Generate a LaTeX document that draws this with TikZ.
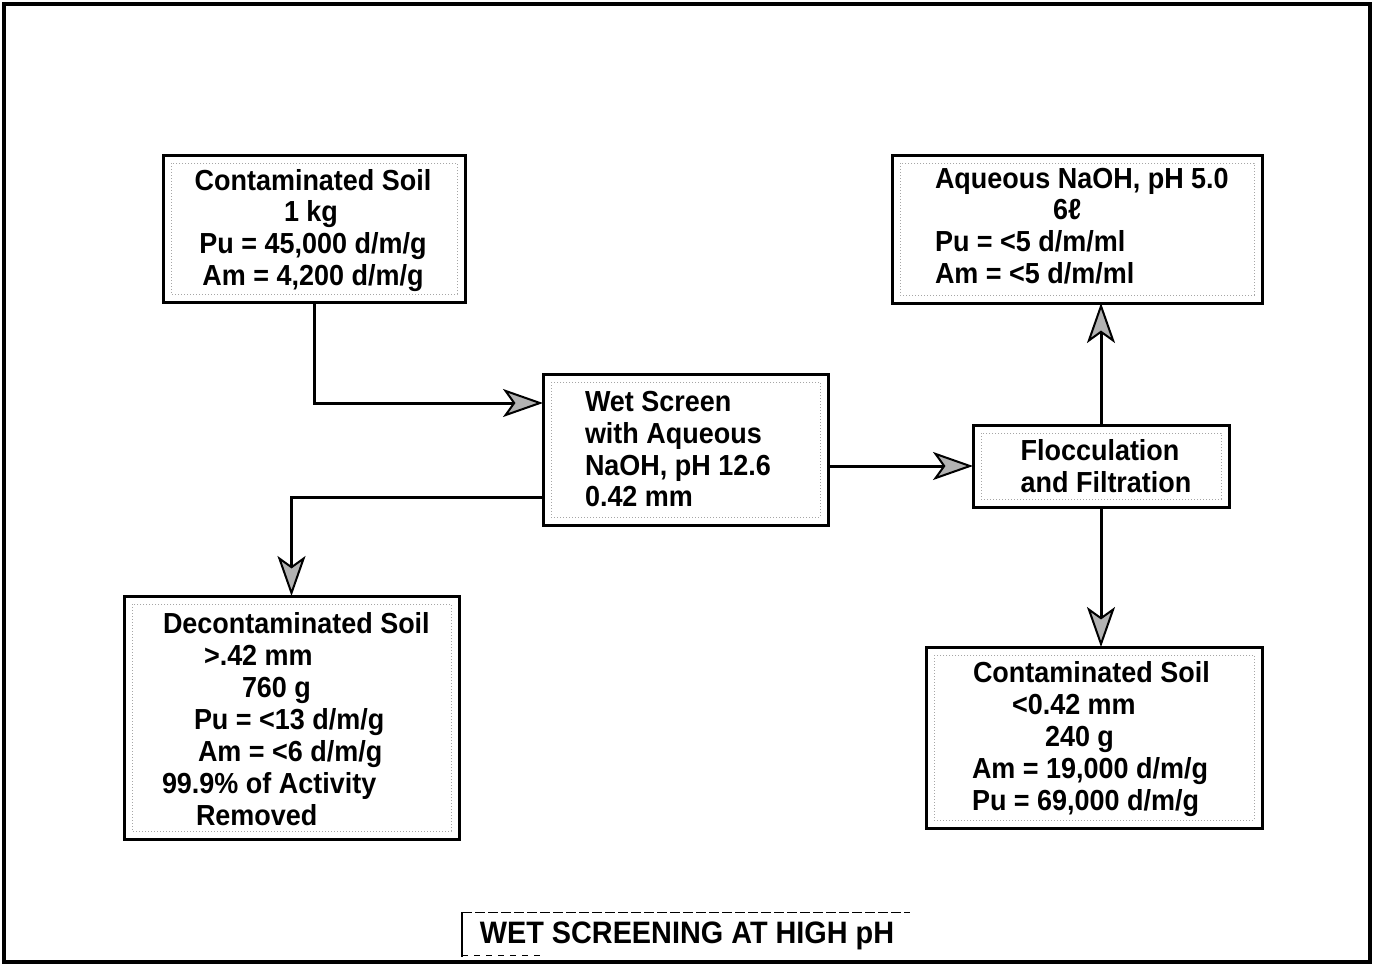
\documentclass[tikz,border=0pt]{standalone}
\usepackage{fontspec}
\setmainfont{Liberation Sans}
\newfontfamily\medfont{Liberation Sans Bold}[FakeStretch=0.93]
\usetikzlibrary{arrows.meta}
\begin{document}
\begin{tikzpicture}[x=1pt,y=-1pt,
  box/.style={draw=black,line width=3pt,rectangle,inner sep=0pt,outer sep=0pt},
  txt/.style={inner sep=0pt,outer sep=0pt,font=\medfont\fontsize{29}{32}\selectfont},
  conn/.style={line width=3pt,-{Stealth[length=40pt,width=28pt,inset=10pt,fill=gray!60,line width=2pt]}},
  inner/.style={gray!70,line width=1pt,dotted}
]
\useasboundingbox (0,0) rectangle (1378,967);
\fill[white] (0,0) rectangle (1378,967);
% outer frame
\draw[line width=4pt] (4,4) rectangle (1370,962);

% boxes
\node[box,minimum width=302pt,minimum height=147pt] (b1) at (314,228.5) {};
\node[box,minimum width=285pt,minimum height=151pt] (wet) at (685.5,449.5) {};
\node[box,minimum width=370pt,minimum height=148pt] (aq) at (1077,229) {};
\node[box,minimum width=256pt,minimum height=82pt] (floc) at (1101,466) {};
\node[box,minimum width=335pt,minimum height=243pt] (dec) at (291.5,717.5) {};
\node[box,minimum width=336pt,minimum height=181pt] (c2) at (1094,737.5) {};

% inner dotted borders
\foreach \b in {b1,wet,aq,floc,dec,c2}{
  \draw[inner] ([shift={(8pt,-8pt)}]\b.north west) rectangle ([shift={(-8pt,8pt)}]\b.south east);
}

% texts box 1
\node[txt,anchor=base] (b1a) at (313,190) {Contaminated Soil};
\node[txt,anchor=base] (b1b) at (311,221) {1 kg};
\node[txt,anchor=base] (b1c) at (313,253) {Pu = 45,000 d/m/g};
\node[txt,anchor=base] (b1d) at (313,285) {Am = 4,200 d/m/g};

% wet screen
\node[txt,anchor=base west] (wa) at (585,411) {Wet Screen};
\node[txt,anchor=base west] (wb) at (585,443) {with Aqueous};
\node[txt,anchor=base west] (wc) at (585,475) {NaOH, pH 12.6};
\node[txt,anchor=base west] (wd) at (585,506) {0.42 mm};

% aqueous
\node[txt,anchor=base west] (aa) at (935,188) {Aqueous NaOH, pH 5.0};
\node[txt,anchor=base west] (ab) at (1053,219) {6ℓ};
\node[txt,anchor=base west] (ac) at (935,251) {Pu = <5 d/m/ml};
\node[txt,anchor=base west] (ad) at (935,283) {Am = <5 d/m/ml};

% flocculation
\node[txt,anchor=base] (fa) at (1100,460) {Flocculation};
\node[txt,anchor=base] (fb) at (1106,492) {and Filtration};

% decontaminated
\node[txt,anchor=base west] (da) at (163,633) {Decontaminated Soil};
\node[txt,anchor=base west] (db) at (204,665) {>.42 mm};
\node[txt,anchor=base west] (dc) at (242,697) {760 g};
\node[txt,anchor=base west] (dd) at (194,729) {Pu = <13 d/m/g};
\node[txt,anchor=base west] (de) at (198,761) {Am = <6 d/m/g};
\node[txt,anchor=base west] (df) at (162,793) {99.9\% of Activity};
\node[txt,anchor=base west] (dg) at (196,825) {Removed};

% contaminated 2
\node[txt,anchor=base west] (ca) at (973,682) {Contaminated Soil};
\node[txt,anchor=base west] (cb) at (1012,714) {<0.42 mm};
\node[txt,anchor=base west] (cc) at (1045,746) {240 g};
\node[txt,anchor=base west] (cd) at (972,778) {Am = 19,000 d/m/g};
\node[txt,anchor=base west] (ce) at (972,810) {Pu = 69,000 d/m/g};

% connectors
\draw[conn] (b1.south) |- ([yshift=46.5pt]wet.west);
\draw[conn] ([yshift=-47.5pt]wet.west) -| (dec.north);
\draw[conn] (floc.west -| wet.east) -- (floc.west);
\draw[conn] (floc.north) -- (floc.north |- aq.south);
\draw[conn] (floc.south) -- (floc.south |- c2.north);

% title
\node[txt,anchor=base,font=\medfont\fontsize{31}{32}\selectfont] (title) at (687,943) {WET SCREENING AT HIGH pH};
\draw[line width=1.2pt] (462,957) -- (462,912);
\draw[line width=1pt,dash pattern=on 10pt off 3pt] (462,912) -- (910,912);
\draw[line width=1pt,dash pattern=on 6pt off 6pt] (462,955) -- (540,955);
\end{tikzpicture}
\end{document}
